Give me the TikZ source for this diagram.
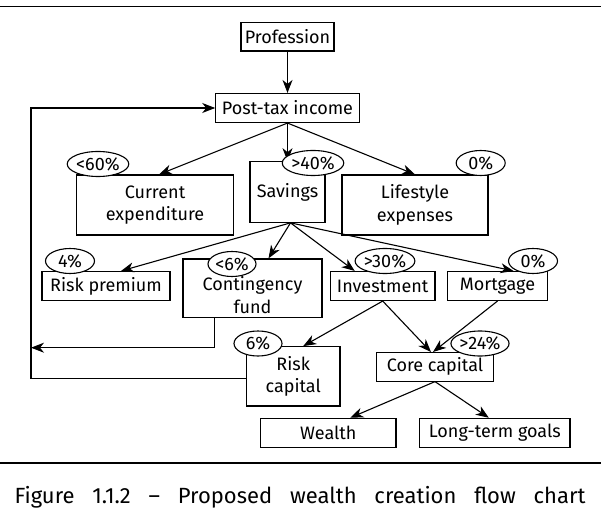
\documentclass[tikz,border=0pt]{standalone}
\usepackage{fontspec}
\setmainfont{Fira Sans}
\usetikzlibrary{arrows.meta, shapes.geometric, calc}
\tikzset{>={Stealth[length = 13pt, width = 10pt, inset = 4pt]}}
\tikzset{box/.style = {draw, line width = 1.1pt, inner sep = 0pt, align = center},
         pct/.style = {draw, ellipse, fill = white, line width = 1.1pt, inner sep = 0pt, minimum height = 25pt},
         arr/.style = {->, line width = 1.1pt}}

\begin{document}
\begin{tikzpicture}[x = 1pt, y = -1pt, font = \fontsize{18}{22.5}\selectfont]
\useasboundingbox (0,0) rectangle (601,526);
\draw[line width = 1.8pt] (0,6.5) -- (601,6.5);
\draw[line width = 1.8pt] (0,463.3) -- (601,463.3);
\node[box, minimum width = 93pt, minimum height = 28.5pt] (prof) at (287.5, 36.8) {Profession};
\node[box, minimum width = 143.5pt, minimum height = 29pt] (income) at (287.5, 108) {Post-tax income};
\node[box, minimum width = 157pt, minimum height = 60pt] (curexp) at (155, 205) {Current\\expenditure};
\node[box, minimum width = 75pt, minimum height = 60.6pt] (savings) at (287.5, 192) {Savings};
\node[box, minimum width = 146pt, minimum height = 60pt] (lifestyle) at (415, 205) {Lifestyle\\expenses};
\node[box, minimum width = 128pt, minimum height = 29pt] (riskprem) at (106, 286) {Risk premium};
\node[box, minimum width = 139pt, minimum height = 58.7pt,
      label = {[align = center, yshift = -7pt]center:Contingency\\fund}] (contfund) at (252.5, 288.3) {};
\node[box, minimum width = 104.6pt, minimum height = 29pt] (invest) at (382.7, 286) {Investment};
\node[box, minimum width = 99.6pt, minimum height = 29pt] (mortgage) at (497.5, 286) {Mortgage};
\node[box, minimum width = 93.5pt, minimum height = 59.3pt] (riskcap) at (293.2, 376.3) {Risk\\capital};
\node[box, minimum width = 116.3pt, minimum height = 28.5pt] (corecap) at (435, 366.8) {Core capital};
\node[box, minimum width = 135.4pt, minimum height = 29pt] (wealth) at (328.3, 432.8) {Wealth};
\node[box, minimum width = 150.3pt, minimum height = 29pt] (goals) at (494.8, 432.8) {Long-term goals};
\draw[arr] (prof) -- (income);
\draw[arr] (income.south) -- ([xshift = 4pt]curexp.north);
\draw[arr] (income.south) -- (savings.north);
\draw[arr] (income.south) -- (lifestyle.north);
\draw[arr] ([xshift = 3pt]savings.south) -- ([xshift = 15pt]riskprem.north);
\draw[arr] ([xshift = 3pt]savings.south) -- ([xshift = 16pt]contfund.north);
\draw[arr] ([xshift = 3pt]savings.south) -- ([xshift = -28pt]invest.north);
\draw[arr] ([xshift = 3pt]savings.south) -- ([xshift = 16pt]mortgage.north);
\draw[arr] (invest.south) -- ([xshift = 10pt]riskcap.north);
\draw[arr] (invest.south) -- ([xshift = -4pt]corecap.north);
\draw[arr] (mortgage.south) -- ([xshift = -2pt]corecap.north);
\draw[arr] (corecap.south) -- ([xshift = 22pt]wealth.north);
\draw[arr] (corecap.south) -- ([xshift = -6pt]goals.north);
\coordinate (back) at (31, 378.3);
\coordinate (cf) at (31, 347.7);
\draw[arr] ([xshift = -38pt]contfund.south) |- (cf);
\draw[arr] (riskcap.west |- back) -- (back) |- (income.west);
\node[pct, minimum width = 58pt] (p60) at (98, 164) {<60\%};
\node[pct, minimum width = 56pt] (p40) at (313, 163) {>40\%};
\node[pct, minimum width = 49pt] (p0a) at (480.7, 163) {0\%};
\node[pct, minimum width = 49pt] (p4) at (70, 261) {4\%};
\node[pct, minimum width = 48pt] (p6a) at (232, 264) {<6\%};
\node[pct, minimum width = 59pt] (p30) at (385, 261) {>30\%};
\node[pct, minimum width = 49pt] (p0b) at (533, 261) {0\%};
\node[pct, minimum width = 48pt] (p6b) at (258, 343.5) {6\%};
\node[pct, minimum width = 57pt] (p24) at (480, 343.5) {>24\%};
\node (caption) at (300, 497) {\fontsize{22}{26}\selectfont\makebox[571pt][s]{Figure 1.1.2 -- Proposed wealth creation flow chart}};
\end{tikzpicture}
\end{document}
